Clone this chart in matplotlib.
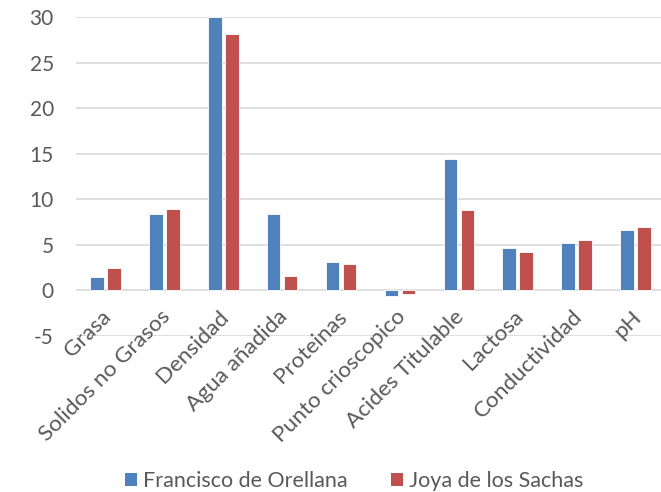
import matplotlib
matplotlib.use("Agg")
import matplotlib.pyplot as plt
from matplotlib.patches import Patch
import numpy as np

categories = ["Grasa", "Solidos no Grasos", "Densidad", "Agua añadida", "Proteinas",
              "Punto crioscopico", "Acides Titulable", "Lactosa", "Conductividad", "pH"]
francisco = [1.5, 8.4, 30.0, 8.4, 3.1, -0.6, 14.4, 4.6, 5.2, 6.6]
joya = [2.4, 8.9, 28.1, 1.6, 2.9, -0.4, 8.8, 4.2, 5.5, 6.9]
series_names = ["Francisco de Orellana", "Joya de los Sachas"]
yticks = [-5, 0, 5, 10, 15, 20, 25, 30]

blue = "#4f81bd"
red = "#c0504d"
txt = "#595959"
grid = "#d9d9d9"

plt.rcParams['font.family'] = ['Lato', 'DejaVu Sans']

fig = plt.figure(figsize=(6.61, 4.92), dpi=100)
ax = fig.add_axes([0.115, 0.3177, 0.891, 0.6477])

x = np.arange(len(categories))
w = 0.23
ax.bar(x - 0.144, francisco, width=w, color=blue, edgecolor="white", linewidth=0.6, zorder=3)
ax.bar(x + 0.144, joya, width=w, color=red, edgecolor="white", linewidth=0.6, zorder=3)

ax.set_ylim(-5, 30)
ax.set_xlim(-0.5, len(categories) - 0.5)
ax.set_yticks(yticks)
ax.set_yticklabels([str(t) for t in yticks], fontsize=15, color=txt)
ax.tick_params(axis='y', length=0, pad=16)
ax.set_xticks(x)
ax.set_xticklabels([])
ax.tick_params(axis='x', length=0)
for s in ax.spines.values():
    s.set_visible(False)
ax.yaxis.grid(True, color=grid, linewidth=1.2, zorder=0)
ax.set_axisbelow(True)

for i, c in enumerate(categories):
    ax.text(i - 0.08, -1.8, c, rotation=45, ha='right', va='top', rotation_mode='anchor',
            fontsize=16.2, color=txt, zorder=5)

handles = [Patch(facecolor=blue), Patch(facecolor=red)]
fig.legend(handles, series_names, loc='center', bbox_to_anchor=(0.536, 0.022), ncol=2,
           frameon=False, fontsize=15.5, labelcolor=txt, handlelength=0.55, handleheight=0.55,
           handletextpad=0.3, columnspacing=2.0)

fig.savefig("out.png", dpi=100)
